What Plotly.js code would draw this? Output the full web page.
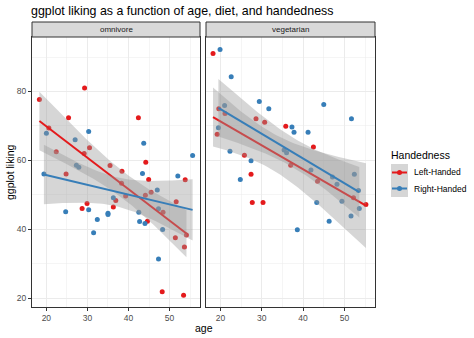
<!DOCTYPE html>
<html>
<head>
<meta charset="utf-8">
<script src="https://cdn.plot.ly/plotly-3.0.1.min.js"></script>
<style>html,body{margin:0;padding:0;background:#fff;}#chart{width:474px;height:338px;}</style>
</head>
<body>
<div id="chart"></div>
<script>
// ---- data ----
const diets = ['omnivore', 'vegetarian'];
const hands = ['Left-Handed', 'Right-Handed'];

const omniLeftAge = [18.3, 29.3, 25.4, 42.4, 20.6, 30.5, 22.4, 29.2, 44.2, 35.5, 38.4, 24.8, 53.8, 44.9, 38.3, 36.9, 44.1, 45.5, 39.3, 51.6, 28.7, 29.9, 36.3, 48.4, 44.6, 51.4, 54.1, 53.6, 48.2, 53.4];
const omniLeftLiking = [77.7, 81.0, 72.4, 72.4, 69.4, 63.7, 62.5, 62.0, 59.5, 58.5, 56.9, 56.1, 54.4, 54.5, 53.4, 48.4, 49.9, 50.8, 49.7, 48.0, 46.1, 47.5, 46.5, 45.0, 42.4, 37.6, 38.4, 34.9, 21.9, 20.9];
const omniRightAge = [20.0, 30.3, 27.0, 43.7, 55.6, 27.3, 27.9, 43.4, 19.4, 52.0, 36.3, 47.0, 24.7, 30.3, 35.0, 35.0, 32.4, 31.5, 42.5, 47.3, 42.7, 44.0, 48.3, 47.3];
const omniRightLiking = [67.9, 68.4, 66.0, 65.0, 61.4, 58.6, 58.0, 56.2, 56.1, 55.5, 49.2, 51.4, 45.1, 45.7, 44.7, 44.3, 42.9, 39.0, 45.0, 46.0, 42.3, 41.7, 40.0, 31.4];

const vegLeftAge = [18.2, 19.6, 21.1, 28.6, 30.7, 35.8, 42.5, 19.2, 25.8, 27.4, 37.0, 27.7, 30.3, 52.2, 55.2, 43.5];
const vegLeftLiking = [91.0, 75.0, 73.6, 72.1, 71.1, 69.9, 63.9, 67.6, 61.5, 56.0, 58.6, 47.8, 47.8, 49.2, 47.2, 54.0];
const vegRightAge = [19.9, 22.6, 29.4, 31.7, 45.0, 21.0, 37.3, 37.8, 41.2, 19.5, 22.3, 27.4, 24.8, 35.4, 36.0, 41.9, 48.2, 47.1, 51.7, 52.4, 53.4, 49.4, 43.3, 46.3, 51.6, 53.6, 38.6];
const vegRightLiking = [92.2, 84.3, 77.1, 75.0, 76.2, 75.9, 69.7, 68.2, 68.2, 69.5, 62.7, 59.9, 54.5, 63.0, 62.2, 57.2, 53.1, 55.2, 72.1, 56.0, 51.3, 48.2, 47.8, 42.4, 43.9, 46.1, 39.9];

const xTicks = [20, 30, 40, 50];
const yTicks = [20, 40, 60, 80];

// ---- styling ----
const RED = '#E41A1C', BLUE = '#377EB8';
const FONT = 'Liberation Sans, Arial, Helvetica, sans-serif';
const W = 474, H = 338, ML = 32, MR = 99, MT = 37, MB = 31;
const PW = W - ML - MR, PH = H - MT - MB;
const px2x = p => (p - ML) / PW;
const px2y = p => (H - MB - p) / PH;

// ---- linear model with 95% confidence band (geom_smooth(method = "lm")) ----
function tq(df) {
  const z = 1.959964;
  return z + (z**3 + z) / (4*df) + (5*z**5 + 16*z**3 + 3*z) / (96*df*df)
       + (3*z**7 + 19*z**5 + 17*z**3 - 15*z) / (384*df**3);
}
function lmFit(xs, ys) {
  const n = xs.length;
  const mx = xs.reduce((a, b) => a + b, 0) / n;
  const my = ys.reduce((a, b) => a + b, 0) / n;
  let sxx = 0, sxy = 0;
  for (let i = 0; i < n; i++) { sxx += (xs[i]-mx)**2; sxy += (xs[i]-mx)*(ys[i]-my); }
  const b = sxy / sxx, a = my - b * mx;
  let sse = 0;
  for (let i = 0; i < n; i++) sse += (ys[i] - a - b*xs[i])**2;
  const s = Math.sqrt(sse / (n - 2)), t = tq(n - 2);
  const lo = Math.min(...xs), hi = Math.max(...xs);
  const gx = [], fy = [], up = [], dn = [];
  for (let k = 0; k < 80; k++) {
    const x = lo + (hi - lo) * k / 79;
    const f = a + b * x;
    const se = s * Math.sqrt(1/n + (x-mx)**2 / sxx);
    gx.push(x); fy.push(f); up.push(f + t*se); dn.push(f - t*se);
  }
  return {gx, fy, up, dn};
}

const groups = [
  {ax: 'x', ay: 'y', hand: 0, xs: omniLeftAge, ys: omniLeftLiking, col: RED},
  {ax: 'x', ay: 'y', hand: 1, xs: omniRightAge, ys: omniRightLiking, col: BLUE},
  {ax: 'x2', ay: 'y2', hand: 0, xs: vegLeftAge, ys: vegLeftLiking, col: RED},
  {ax: 'x2', ay: 'y2', hand: 1, xs: vegRightAge, ys: vegRightLiking, col: BLUE}
];

const traces = [];
// points first
groups.forEach(g => traces.push({
  type: 'scatter', mode: 'markers', x: g.xs, y: g.ys, xaxis: g.ax, yaxis: g.ay,
  name: hands[g.hand], showlegend: false,
  marker: {color: g.col, size: 5}, hoverinfo: 'x+y'
}));
// then ribbon + line for each group
groups.forEach(g => {
  const f = lmFit(g.xs, g.ys);
  traces.push({
    type: 'scatter', mode: 'lines', xaxis: g.ax, yaxis: g.ay,
    x: f.gx.concat(f.gx.slice().reverse()), y: f.up.concat(f.dn.slice().reverse()),
    fill: 'toself', fillcolor: 'rgba(153,153,153,0.4)', line: {width: 0},
    showlegend: false, hoverinfo: 'skip'
  });
  traces.push({
    type: 'scatter', mode: 'lines', xaxis: g.ax, yaxis: g.ay,
    x: f.gx, y: f.fy, line: {color: g.col, width: 2},
    name: hands[g.hand], showlegend: false, hoverinfo: 'skip'
  });
});

const xr = [16.5, 57.4], yr = [17.5, 95.8];
function xa(domain) {
  return {
    domain, range: xr, tickvals: xTicks, ticktext: xTicks.map(String),
    ticks: 'outside', ticklen: 3, tickcolor: '#333333', tickwidth: 1,
    tickfont: {family: FONT, size: 8.5, color: '#4D4D4D'},
    showgrid: true, gridcolor: '#EBEBEB', gridwidth: 1,
    minor: {dtick: 5, tick0: 0, showgrid: true, gridcolor: '#EBEBEB', gridwidth: 0.5},
    showline: true, mirror: true, linecolor: '#333333', linewidth: 1,
    zeroline: false, fixedrange: true
  };
}
function ya(showLabels) {
  return {
    domain: [0, 1], range: yr, tickvals: yTicks, ticktext: yTicks.map(String),
    ticks: showLabels ? 'outside' : '', ticklen: 3, tickcolor: '#333333', tickwidth: 1,
    showticklabels: showLabels,
    tickfont: {family: FONT, size: 8.5, color: '#4D4D4D'},
    showgrid: true, gridcolor: '#EBEBEB', gridwidth: 1,
    minor: {dtick: 10, tick0: 10, showgrid: true, gridcolor: '#EBEBEB', gridwidth: 0.5},
    showline: true, mirror: true, linecolor: '#333333', linewidth: 1,
    zeroline: false, fixedrange: true
  };
}

const d1 = [0, 168 / PW], d2 = [174 / PW, 1];
const stripTop = 1 + 15 / PH;
const shapes = [
  {type: 'rect', xref: 'paper', yref: 'paper', x0: d1[0], x1: d1[1], y0: 1, y1: stripTop,
   fillcolor: '#D9D9D9', line: {color: '#333333', width: 1}},
  {type: 'rect', xref: 'paper', yref: 'paper', x0: d2[0], x1: d2[1], y0: 1, y1: stripTop,
   fillcolor: '#D9D9D9', line: {color: '#333333', width: 1}}
];
const annotations = [
  {xref: 'paper', yref: 'paper', x: (d1[0]+d1[1])/2, y: (1+stripTop)/2, text: diets[0],
   showarrow: false, font: {family: FONT, size: 8, color: '#1A1A1A'}, xanchor: 'center', yanchor: 'middle'},
  {xref: 'paper', yref: 'paper', x: (d2[0]+d2[1])/2, y: (1+stripTop)/2, text: diets[1],
   showarrow: false, font: {family: FONT, size: 8, color: '#1A1A1A'}, xanchor: 'center', yanchor: 'middle'},
  {xref: 'paper', yref: 'paper', x: 0.5, y: px2y(328), text: 'age', showarrow: false,
   font: {family: FONT, size: 10.5, color: '#000'}, xanchor: 'center', yanchor: 'middle'},
  {xref: 'paper', yref: 'paper', x: px2x(10), y: 0.5, text: 'ggplot liking', textangle: -90, showarrow: false,
   font: {family: FONT, size: 10.5, color: '#000'}, xanchor: 'center', yanchor: 'middle'},
  // legend
  {xref: 'paper', yref: 'paper', x: px2x(389), y: px2y(155), text: 'Handedness', showarrow: false,
   font: {family: FONT, size: 10.5, color: '#000'}, xanchor: 'left', yanchor: 'middle'},
];
const keyTop = [164, 180];
hands.forEach((h, i) => {
  const top = keyTop[i], mid = top + 8.5, col = i === 0 ? RED : BLUE;
  shapes.push({type: 'rect', xref: 'paper', yref: 'paper', x0: px2x(391), x1: px2x(408),
    y0: px2y(top + 17), y1: px2y(top), fillcolor: '#D6D6D6', line: {width: 0}});
  shapes.push({type: 'line', xref: 'paper', yref: 'paper', x0: px2x(392), x1: px2x(407),
    y0: px2y(mid), y1: px2y(mid), line: {color: col, width: 2}});
  shapes.push({type: 'circle', xref: 'paper', yref: 'paper', x0: px2x(397), x1: px2x(402),
    y0: px2y(mid + 2.5), y1: px2y(mid - 2.5), fillcolor: col, line: {width: 0}});
  annotations.push({xref: 'paper', yref: 'paper', x: px2x(412), y: px2y(mid), text: h, showarrow: false,
    font: {family: FONT, size: 8.5, color: '#000'}, xanchor: 'left', yanchor: 'middle'});
});

const layout = {
  width: W, height: H,
  margin: {l: ML, r: MR, t: MT, b: MB, pad: 0},
  paper_bgcolor: '#fff', plot_bgcolor: '#fff',
  showlegend: false,
  title: {text: 'ggplot liking as a function of age, diet, and handedness',
          font: {family: FONT, size: 12.4, color: '#000'},
          x: 31 / W, xref: 'container', xanchor: 'left',
          y: 1 - 11 / H, yref: 'container', yanchor: 'middle'},
  xaxis: xa(d1), xaxis2: Object.assign(xa(d2), {anchor: 'y2'}),
  yaxis: ya(true), yaxis2: Object.assign(ya(false), {anchor: 'x2', matches: 'y'}),
  shapes, annotations
};

Plotly.newPlot('chart', traces, layout, {staticPlot: true, displayModeBar: false});
</script>
</body>
</html>
